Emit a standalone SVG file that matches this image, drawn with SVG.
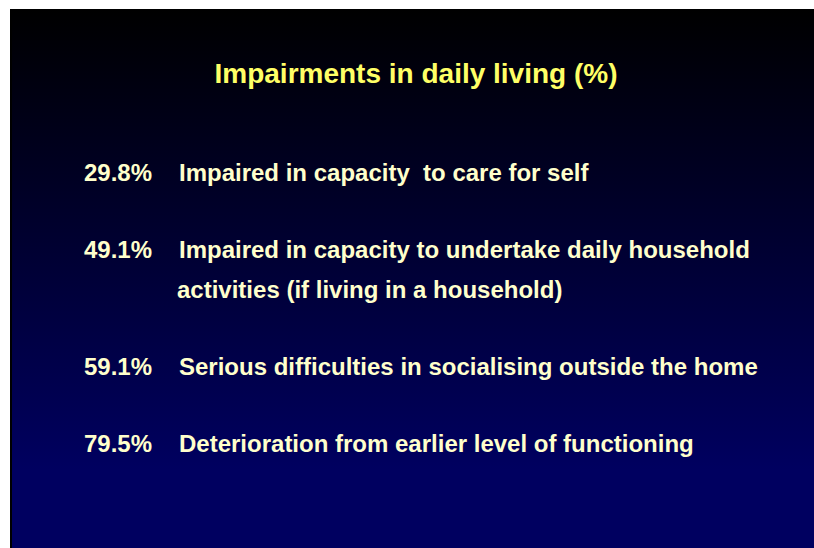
<svg xmlns="http://www.w3.org/2000/svg" width="814" height="548" viewBox="0 0 814 548">
  <defs>
    <linearGradient id="bg" x1="0" y1="9" x2="0" y2="470" gradientUnits="userSpaceOnUse">
      <stop offset="0" stop-color="#000000"/>
      <stop offset="1" stop-color="#000060"/>
    </linearGradient>
    <style>
      .title { font-family: "Liberation Sans", Arial, sans-serif; font-weight: bold; font-size: 28px; fill: #FFFF66; }
      .body { font-family: "Liberation Sans", Arial, sans-serif; font-weight: bold; font-size: 24px; fill: #FFFFCC; }
    </style>
  </defs>
  <rect x="0" y="0" width="814" height="548" fill="#FFFFFF"/>
  <rect x="10" y="9" width="804" height="539" fill="url(#bg)"/>
  <rect x="10" y="9" width="2" height="539" fill="#000000"/>
  <text class="title" x="416" y="83" text-anchor="middle">Impairments in daily living (%)</text>
  <g id="item1">
    <text class="body" x="84" y="181">29.8%</text>
    <text class="body" x="179" y="181" xml:space="preserve">Impaired in capacity  to care for self</text>
  </g>
  <g id="item2">
    <text class="body" x="84" y="258">49.1%</text>
    <text class="body" x="179" y="258">Impaired in capacity to undertake daily household</text>
    <text class="body" x="177" y="298">activities (if living in a household)</text>
  </g>
  <g id="item3">
    <text class="body" x="84" y="375">59.1%</text>
    <text class="body" x="179" y="375">Serious difficulties in socialising outside the home</text>
  </g>
  <g id="item4">
    <text class="body" x="84" y="452">79.5%</text>
    <text class="body" x="179" y="452">Deterioration from earlier level of functioning</text>
  </g>
</svg>
